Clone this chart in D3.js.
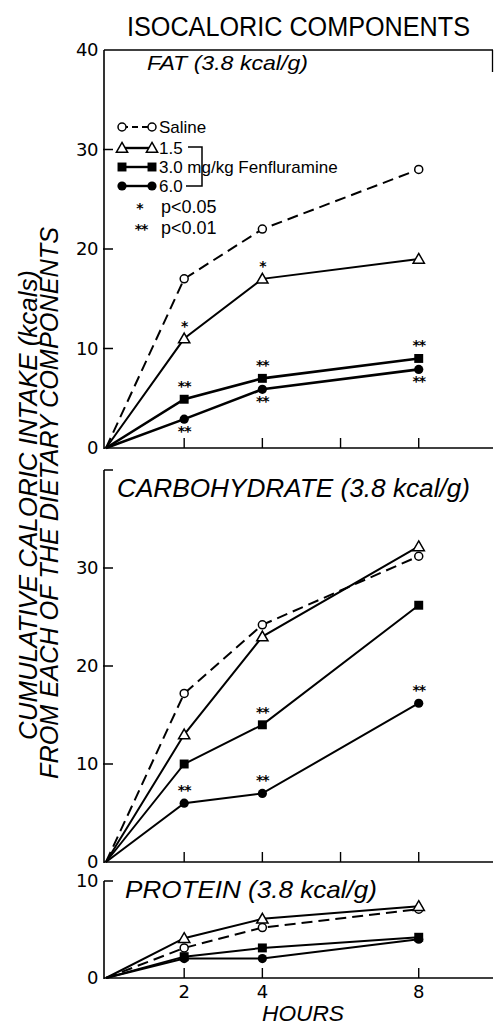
<!DOCTYPE html>
<html><head><meta charset="utf-8">
<script src="https://cdn.jsdelivr.net/npm/d3@7"></script>
<style>
html,body{margin:0;padding:0;background:#fff;}
svg{display:block;}
text{font-family:"Liberation Sans Narrow","Liberation Sans",Arial,sans-serif;fill:#000;}
</style></head>
<body>
<svg id="chart" width="494" height="1027"></svg>
<script>
// ---------- data ----------
const hours = [0, 2, 4, 8];
const seriesNames = ["Saline", "1.5", "3.0", "6.0"];
const fatSaline = [0, 17, 22, 28];
const fat15 = [0, 11, 17, 19];
const fat30 = [0, 4.9, 7, 9];
const fat60 = [0, 2.9, 5.9, 7.9];
const carbSaline = [0, 17.2, 24.2, 31.2];
const carb15 = [0, 13, 23, 32.2];
const carb30 = [0, 10, 14, 26.2];
const carb60 = [0, 6, 7, 16.2];
const protSaline = [0, 3.1, 5.2, 7.1];
const prot15 = [0, 4.1, 6.1, 7.4];
const prot30 = [0, 2.2, 3.1, 4.2];
const prot60 = [0, 2.0, 2.0, 4.0];
const fatTicks = [0, 10, 20, 30, 40];
const carbTicks = [0, 10, 20, 30];
const protTicks = [0, 10];
const hourTicks = [2, 4, 6, 8];
const hourLabels = [2, 4, 8];
// significance marks: [series, hour, mark, side]
const fatSig = [["1.5",2,"*","above"],["1.5",4,"*","above"],["3.0",2,"**","above"],["3.0",4,"**","above"],["3.0",8,"**","above"],["6.0",2,"**","below"],["6.0",4,"**","below"],["6.0",8,"**","below"]];
const carbSig = [["3.0",4,"**","above"],["6.0",2,"**","above"],["6.0",4,"**","above"],["6.0",8,"**","above"]];
const protSig = [];

const svg = d3.select("#chart");
const x = d3.scaleLinear().domain([0, 9.9]).range([106, 493]);
const axisX = 104;

const panels = [
  {name:"FAT (3.8 kcal/g)", tw:161, tx:147, ty:70, fs:21, domain:[0,40], range:[448,50], ticks:fatTicks, xt:hourTicks,
   series:[fatSaline, fat15, fat30, fat60], sig:fatSig, top:"box"},
  {name:"CARBOHYDRATE (3.8 kcal/g)", tw:353, tx:117, ty:497, fs:25, domain:[0,40], range:[862,470], ticks:carbTicks, xt:hourTicks,
   series:[carbSaline, carb15, carb30, carb60], sig:carbSig, top:"bracket"},
  {name:"PROTEIN (3.8 kcal/g)", tw:252, tx:125, ty:898, fs:24, domain:[0,10], range:[978,881], ticks:protTicks, xt:[2,4,8],
   series:[protSaline, prot15, prot30, prot60], sig:protSig, top:"bracket"}
];

function drawMarker(g, type, cx, cy) {
  if (type === 0) {
    g.append("circle").attr("cx",cx).attr("cy",cy).attr("r",4).attr("fill","#fff").attr("stroke","#000").attr("stroke-width",1.5);
  } else if (type === 1) {
    g.append("path").attr("d", d3.symbol(d3.symbolTriangle, 55)()).attr("transform",`translate(${cx},${cy+1})`)
      .attr("fill","#fff").attr("stroke","#000").attr("stroke-width",1.5);
  } else if (type === 2) {
    g.append("path").attr("d", d3.symbol(d3.symbolSquare, 80)()).attr("transform",`translate(${cx},${cy})`).attr("fill","#000");
  } else {
    g.append("circle").attr("cx",cx).attr("cy",cy).attr("r",4.6).attr("fill","#000");
  }
}

panels.forEach(p => {
  const y = d3.scaleLinear().domain(p.domain).range(p.range);
  const g = svg.append("g");
  g.append("line").attr("x1",axisX).attr("x2",axisX).attr("y1",p.range[1]).attr("y2",p.range[0]+1).attr("stroke","#000").attr("stroke-width",1.6);
  g.append("line").attr("x1",axisX).attr("x2",493).attr("y1",p.range[0]).attr("y2",p.range[0]).attr("stroke","#000").attr("stroke-width",1.6);
  if (p.top === "box") {
    g.append("line").attr("x1",axisX).attr("x2",493).attr("y1",p.range[1]).attr("y2",p.range[1]).attr("stroke","#000").attr("stroke-width",1.3);
    g.append("line").attr("x1",492.5).attr("x2",492.5).attr("y1",p.range[1]).attr("y2",p.range[1]+22).attr("stroke","#000").attr("stroke-width",1.3);
  } else {
    g.append("line").attr("x1",axisX).attr("x2",axisX+9).attr("y1",p.range[1]).attr("y2",p.range[1]).attr("stroke","#000").attr("stroke-width",1.5);
  }
  p.ticks.forEach(t => {
    if (t > 0 && t < p.domain[1]) {
      g.append("line").attr("x1",axisX-1).attr("x2",axisX+9).attr("y1",y(t)).attr("y2",y(t)).attr("stroke","#000").attr("stroke-width",1.5);
    }
    g.append("text").attr("x",98).attr("y",y(t)).attr("dy","0.36em").attr("text-anchor","end")
      .style("font-size","18px").style("font-family","'DejaVu Sans',sans-serif").style("letter-spacing","-0.5px").text(t);
  });
  p.xt.forEach(h => {
    g.append("line").attr("x1",x(h)).attr("x2",x(h)).attr("y1",p.range[0]).attr("y2",p.range[0]-10).attr("stroke","#000").attr("stroke-width",1.4);
  });
  g.append("text").attr("x",p.tx).attr("y",p.ty).attr("textLength",p.tw).attr("lengthAdjust","spacingAndGlyphs")
    .style("font-size",p.fs+"px").style("font-style","italic").text(p.name);
  const line = d3.line().x((d,i)=>x(hours[i])).y(d=>y(d));
  const order = [0,1,2,3];
  order.forEach(si => {
    g.append("path").datum(p.series[si]).attr("d",line).attr("fill","none").attr("stroke","#000")
      .attr("stroke-width", si===0 ? 2 : (si>=2 && p.top==="box" ? 2.6 : 2))
      .attr("stroke-dasharray", si===0 ? "11,6" : null);
  });
  order.forEach(si => {
    p.series[si].forEach((v,i) => { if (i>0) drawMarker(g, si, x(hours[i]), y(v)); });
  });
  p.sig.forEach(s => {
    const si = seriesNames.indexOf(s[0]);
    const hi = hours.indexOf(s[1]);
    const cy = y(p.series[si][hi]) + (s[3]==="above" ? -8 : 17);
    g.append("text").attr("x",x(s[1])).attr("y",cy).attr("text-anchor","middle")
      .style("font-size","14px").style("font-weight","bold").style("font-family","'DejaVu Sans',sans-serif")
      .style("letter-spacing","-1px").text(s[2]);
  });
});

hourLabels.forEach(h => {
  svg.append("text").attr("x",x(h)).attr("y",998).attr("text-anchor","middle")
    .style("font-size","18px").style("font-family","'DejaVu Sans',sans-serif").text(h);
});
svg.append("text").attr("x",303).attr("y",1021).attr("text-anchor","middle").attr("textLength",82).attr("lengthAdjust","spacingAndGlyphs")
  .style("font-size","22px").style("font-style","italic").text("HOURS");

svg.append("text").attr("x",127).attr("y",36).attr("textLength",343).attr("lengthAdjust","spacingAndGlyphs")
  .style("font-size","27px").text("ISOCALORIC COMPONENTS");

const yt = svg.append("g");
yt.append("text").attr("transform","translate(37,505) rotate(-90)").attr("text-anchor","middle")
  .attr("textLength",470).attr("lengthAdjust","spacingAndGlyphs").style("font-size","25px").style("font-style","italic")
  .text("CUMULATIVE CALORIC INTAKE (kcals)");
yt.append("text").attr("transform","translate(58,503) rotate(-90)").attr("text-anchor","middle")
  .attr("textLength",552).attr("lengthAdjust","spacingAndGlyphs").style("font-size","25px").style("font-style","italic")
  .text("FROM EACH OF THE DIETARY COMPONENTS");

const lg = svg.append("g");
const legY = [127, 148, 167, 186];
const legText = ["Saline", "1.5", "3.0 mg/kg Fenfluramine", "6.0"];
seriesNames.forEach((n, i) => {
  lg.append("line").attr("x1",122).attr("x2",151).attr("y1",legY[i]).attr("y2",legY[i]).attr("stroke","#000")
    .attr("stroke-width", i===0 ? 1.8 : 2.4).attr("stroke-dasharray", i===0 ? "6,4" : null);
  drawMarker(lg, i, 122, legY[i]);
  drawMarker(lg, i, 152, legY[i]);
  lg.append("text").attr("x",159).attr("y",legY[i]).attr("dy","0.36em").style("font-size","17px").text(legText[i]);
});
lg.append("path").attr("d",`M188,${legY[1]-1}H202V${legY[3]}H186`).attr("fill","none").attr("stroke","#000").attr("stroke-width",1.5);
lg.append("text").attr("x",140).attr("y",213).attr("text-anchor","middle").style("font-size","14px").style("font-weight","bold").style("font-family","'DejaVu Sans',sans-serif").text("*");
lg.append("text").attr("x",161).attr("y",207).attr("dy","0.36em").style("font-size","18px").text("p<0.05");
lg.append("text").attr("x",141).attr("y",234).attr("text-anchor","middle").style("font-size","14px").style("font-weight","bold").style("font-family","'DejaVu Sans',sans-serif").style("letter-spacing","-1px").text("**");
lg.append("text").attr("x",161).attr("y",228).attr("dy","0.36em").style("font-size","18px").text("p<0.01");
</script>
</body></html>
